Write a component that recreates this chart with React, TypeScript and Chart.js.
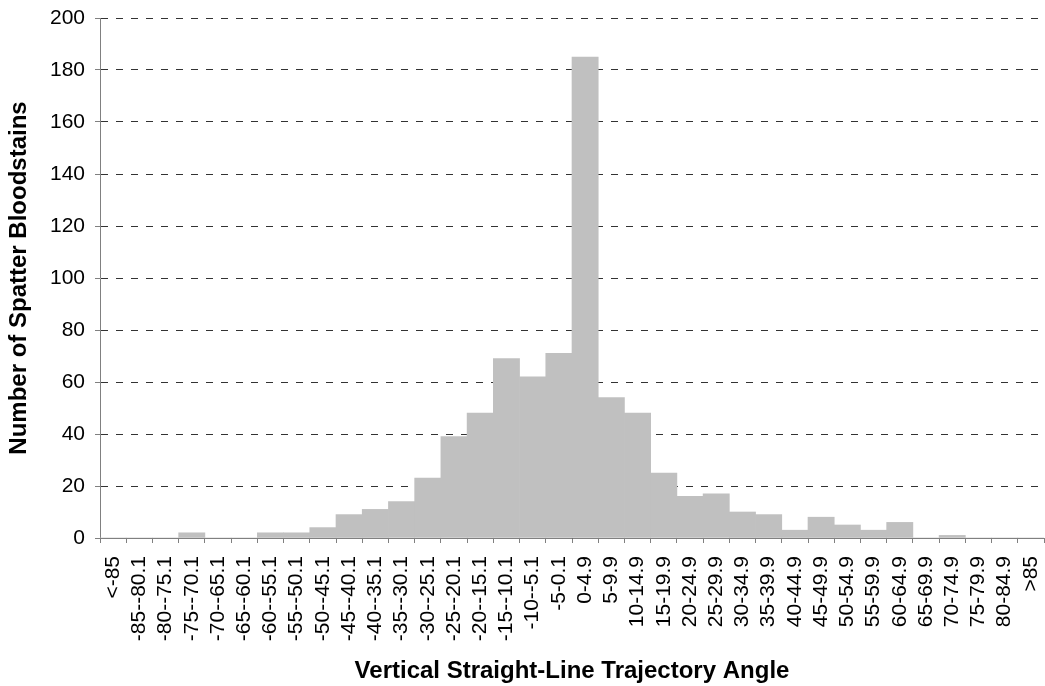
import React, { useEffect, useRef } from "react";
import { Chart, registerables } from "chart.js";

Chart.register(...registerables);

const categories: string[] = [
  "<-85", "-85--80.1", "-80--75.1", "-75--70.1", "-70--65.1", "-65--60.1",
  "-60--55.1", "-55--50.1", "-50--45.1", "-45--40.1", "-40--35.1", "-35--30.1",
  "-30--25.1", "-25--20.1", "-20--15.1", "-15--10.1", "-10--5.1", "-5-0.1",
  "0-4.9", "5-9.9", "10-14.9", "15-19.9", "20-24.9", "25-29.9",
  "30-34.9", "35-39.9", "40-44.9", "45-49.9", "50-54.9", "55-59.9",
  "60-64.9", "65-69.9", "70-74.9", "75-79.9", "80-84.9", ">85",
];

const counts: number[] = [
  0, 0, 0, 2, 0, 0,
  2, 2, 4, 9, 11, 14,
  23, 39, 48, 69, 62, 71,
  185, 54, 48, 25, 16, 17,
  10, 9, 3, 8, 5, 3,
  6, 0, 1, 0, 0, 0,
];

const yMin = 0;
const yMax = 200;
const yStep = 20;

const xTitle = "Vertical Straight-Line Trajectory Angle";
const yTitle = "Number of Spatter Bloodstains";

const FONT = "'Liberation Sans', Arial, sans-serif";

export default function App() {
  const canvasRef = useRef<HTMLCanvasElement | null>(null);

  useEffect(() => {
    const canvas = canvasRef.current;
    if (!canvas) return;
    const chart = new Chart(canvas, {
      type: "bar",
      data: {
        labels: categories,
        datasets: [
          {
            data: counts,
            backgroundColor: "#C0C0C0",
            borderWidth: 0,
            barPercentage: 1.0,
            categoryPercentage: 1.0,
          },
        ],
      },
      options: {
        responsive: false,
        animation: false,
        devicePixelRatio: 1,
        layout: { padding: { left: 0, right: 1, top: 18, bottom: 0 } },
        plugins: {
          legend: { display: false },
          tooltip: { enabled: false },
          title: { display: false },
        },
        scales: {
          x: {
            offset: true,
            afterFit: (scale: any) => {
              scale.height = 148;
              scale.paddingLeft = 0;
              scale.paddingRight = 0;
            },
            grid: {
              display: true,
              drawOnChartArea: false,
              drawTicks: true,
              tickLength: 5,
              tickColor: "#808080",
              offset: true,
            },
            border: { display: true, color: "#808080", width: 1 },
            ticks: {
              autoSkip: false,
              minRotation: 90,
              maxRotation: 90,
              color: "#000",
              padding: 13,
              font: { family: FONT, size: 21 },
            },
            title: {
              display: true,
              text: xTitle,
              color: "#000",
              font: { family: FONT, size: 24, weight: "bold" },
              padding: { top: 0, bottom: 0 },
            },
          },
          y: {
            min: yMin,
            max: yMax,
            afterFit: (scale: any) => {
              scale.width = 100;
              scale.paddingTop = 0;
              scale.paddingBottom = 0;
            },
            ticks: {
              stepSize: yStep,
              color: "#000",
              padding: 10,
              font: { family: FONT, size: 21 },
            },
            grid: {
              color: "#333333",
              lineWidth: 1,
              drawTicks: true,
              tickLength: 5,
              tickColor: "#808080",
              tickBorderDash: [],
            },
            border: { display: true, color: "#808080", width: 1, dash: [7, 8] },
            title: {
              display: true,
              text: yTitle,
              color: "#000",
              font: { family: FONT, size: 24, weight: "bold" },
              padding: { top: 5, bottom: 0 },
            },
          },
        },
      },
    });
    return () => chart.destroy();
  }, []);

  return (
    <div style={{ position: "fixed", left: 0, top: 0, width: 1045, height: 686, background: "#fff" }}>
      <canvas ref={canvasRef} width={1045} height={686} style={{ width: 1045, height: 686, display: "block" }} />
    </div>
  );
}
